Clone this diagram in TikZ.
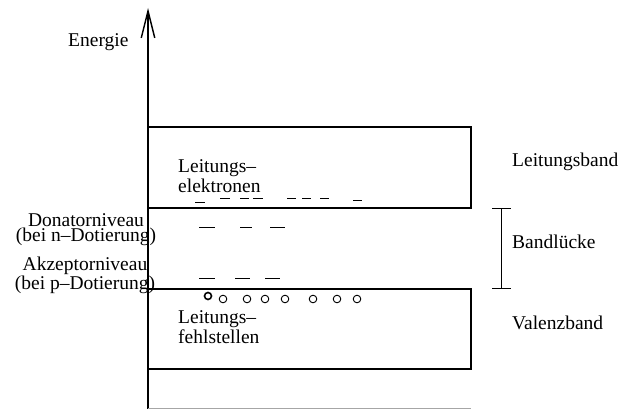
\documentclass[tikz,border=0pt]{standalone}
\usepackage{fontspec}
\setmainfont{Liberation Serif}
\usetikzlibrary{arrows.meta}
\begin{document}
\begin{tikzpicture}[x=1pt,y=-1pt,
  lbl/.style={inner sep=0pt,font=\fontsize{19.5}{20.5}\selectfont},
  lvl/.style={inner sep=0pt,align=center,font=\fontsize{19.5}{13.5}\selectfont},
  band/.style={draw,line width=2pt},
  carrier/.style={line width=1pt},
  hole/.style={draw,line width=0.9pt},
  gapbar/.style={line width=1pt}]
\useasboundingbox (0,0) rectangle (621,409);

% energy axis and base line
\coordinate (axbot) at (148,409);
\coordinate (axtop) at (148,8);
\coordinate (baseR) at (471,408);
\draw[line width=1.6pt,-{Straight Barb[length=27pt,width=13.5pt,line width=1.4pt]}] (axbot) -- (axtop);
\draw[gray!70,line width=1pt] (axbot |- baseR) -- (baseR);
\node[lbl,anchor=west] (energie) at (68,42) {Energie};

% bands
\draw[band] (148,127) rectangle (471,208);
\draw[band] (148,289) rectangle (471,369);

\node[lbl,anchor=west,align=left] (le) at (178,176) {Leitungs–\\elektronen};
\node[lbl,anchor=west,align=left] (lf) at (178,327) {Leitungs–\\fehlstellen};

% conduction electrons
\foreach \a/\b/\y in {195/205/202, 220/230/198, 240/249/198, 253/263/198,
                      287/296/198, 302/311/198, 320/329/198, 353/362/200}
  \draw[carrier] (\a,\y) -- (\b,\y);

% donor levels
\foreach \a/\b in {199/215, 240/252, 270/285}
  \draw[carrier] (\a,227) -- (\b,227);
% acceptor levels
\foreach \a/\b in {199/215, 235/250, 265/280}
  \draw[carrier] (\a,278) -- (\b,278);

% holes
\draw[hole,line width=1.6pt] (208,296) circle (3.5);
\foreach \x in {223,247,265,285,313,337,357}
  \draw[hole] (\x,299) circle (3.8);

\node[lvl] (don) at (86,229.5) {Donatorniveau\\(bei n–Dotierung)};
\node[lvl] (akz) at (85,275.5) {Akzeptorniveau\\(bei p–Dotierung)};

% band gap marker
\coordinate (gt) at (501,208);
\coordinate (gb) at (501,288);
\draw[gapbar] (gt) -- (gb);
\draw[gapbar] ([xshift=-9pt]gt) -- ([xshift=10pt]gt);
\draw[gapbar] ([xshift=-9pt]gb) -- ([xshift=10pt]gb);

\node[lbl,anchor=west] (lb) at (512,162) {Leitungsband};
\node[lbl,anchor=west] (bl) at (512,242) {Bandlücke};
\node[lbl,anchor=west] (vb) at (512,323) {Valenzband};
\end{tikzpicture}
\end{document}
